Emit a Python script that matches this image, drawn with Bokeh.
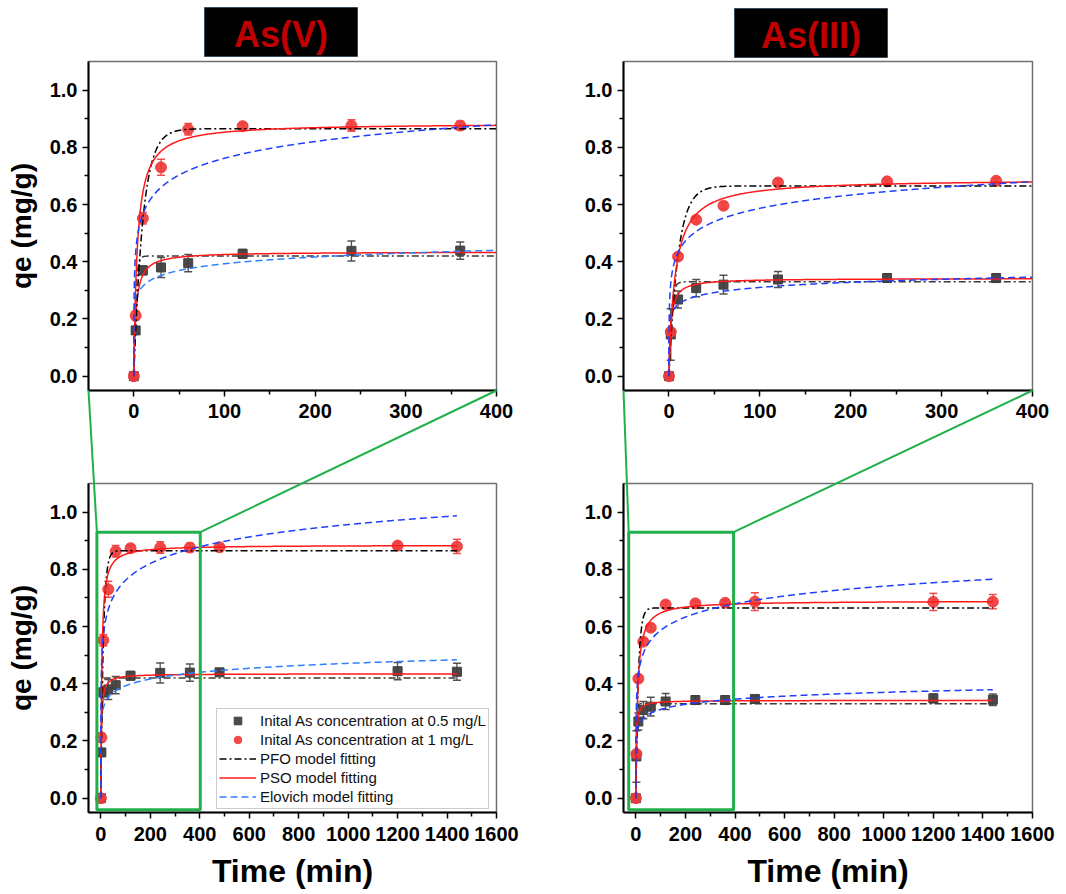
import numpy as np
from bokeh.core.properties import value
from bokeh.embed import file_html
from bokeh.layouts import column, row
from bokeh.models import (BoxAnnotation, FixedTicker, GridBox, Legend, LegendItem,
                          NumeralTickFormatter, Range1d)
from bokeh.plotting import figure
from bokeh.resources import INLINE

# ---------------------------------------------------------------- data
# Sampling times (min)
TIME = [0, 2, 10, 30, 60, 120, 240, 360, 480, 1200, 1440]

# As(V) uptake qe (mg/g) with error, initial 0.5 mg/L and 1 mg/L
ASV_LOW_Q = [0.0, 0.16, 0.37, 0.38, 0.395, 0.428, 0.438, 0.439, 0.44, 0.444, 0.442]
ASV_LOW_ERR = [0.0, 0.01, 0.015, 0.035, 0.03, 0.015, 0.035, 0.03, 0.01, 0.03, 0.03]
ASV_HIGH_Q = [0.0, 0.212, 0.552, 0.73, 0.863, 0.874, 0.876, 0.876, 0.877, 0.883, 0.88]
ASV_HIGH_ERR = [0.0, 0.015, 0.02, 0.028, 0.02, 0.01, 0.02, 0.015, 0.01, 0.012, 0.025]

# As(III) uptake qe (mg/g) with error
ASIII_LOW_Q = [0.0, 0.146, 0.268, 0.308, 0.32, 0.338, 0.343, 0.343, 0.347, 0.349, 0.344]
ASIII_LOW_ERR = [0.0, 0.09, 0.03, 0.03, 0.033, 0.028, 0.015, 0.015, 0.01, 0.015, 0.02]
ASIII_HIGH_Q = [0.0, 0.155, 0.418, 0.547, 0.596, 0.677, 0.681, 0.683, 0.687, 0.686, 0.687]
ASIII_HIGH_ERR = [0.0, 0.01, 0.01, 0.01, 0.012, 0.012, 0.008, 0.01, 0.031, 0.03, 0.025]

# Fitted kinetic parameters
#   PFO: (qe, k1)   PSO: (qe, k2)   Elovich: (alpha, beta)
ASV_LOW_FIT = {"pfo": (0.42, 0.5), "pso": (0.435, 1.0), "elovich": (35.5, 29.4)}
ASV_HIGH_FIT = {"pfo": (0.865, 0.10), "pso": (0.885, 0.30), "elovich": (6.93, 11.83)}
ASIII_LOW_FIT = {"pfo": (0.33, 0.4), "pso": (0.342, 1.5), "elovich": (41.2, 38.6)}
ASIII_HIGH_FIT = {"pfo": (0.665, 0.10), "pso": (0.69, 0.22), "elovich": (4.27, 14.93)}

PANEL_TITLES = ["As(V)", "As(III)"]
LEGEND_LABELS = ["Inital As concentration at 0.5 mg/L",
                 "Inital As concentration at 1 mg/L",
                 "PFO model fitting", "PSO model fitting", "Elovich model fitting"]
Y_LABEL = "qe (mg/g)"
X_LABEL = "Time (min)"

Y_MAJOR = [0.0, 0.2, 0.4, 0.6, 0.8, 1.0]
Y_MINOR = [0.1, 0.3, 0.5, 0.7, 0.9]
TOP_X_MAJOR = [0, 100, 200, 300, 400]
TOP_X_MINOR = [50, 150, 250, 350]
BOT_X_MAJOR = [0, 200, 400, 600, 800, 1000, 1200, 1400, 1600]
BOT_X_MINOR = [100, 300, 500, 700, 900, 1100, 1300, 1500]

# zoomed window drawn on the full-time panels (x0, x1, y0, y1)
ZOOM_V = (-16, 402, -0.04, 0.93)
ZOOM_III = (-29, 394, -0.04, 0.93)


# ---------------------------------------------------------------- models
def pfo(t, qe, k):
    return qe * (1.0 - np.exp(-k * t))


def pso(t, qe, k):
    return qe * qe * k * t / (1.0 + qe * k * t)


def elovich(t, a, b):
    return np.log1p(a * b * t) / b


# ---------------------------------------------------------------- geometry
PAGE_W, PAGE_H = 1066, 894
COL_W = 533
TOP_H = 465
BOT_H = PAGE_H - TOP_H

TOP_X = (-50, 400)
BOT_X = (-50, 1600)
Y_RANGE = (-0.05, 1.1)

FONT = "Liberation Sans"
GREEN = "#22b04b"
RED = "#ef3b3b"
GREY = "#404040"


class Frame:
    """Page-pixel placement of a plot frame and its data ranges."""

    def __init__(self, ox, oy, left, right, top, bottom, xr):
        self.ox, self.oy = ox, oy
        self.l, self.r, self.t, self.b = left, right, top, bottom
        self.xr, self.yr = xr, Y_RANGE

    def to_px(self, x, y):
        gx = self.l + (x - self.xr[0]) / (self.xr[1] - self.xr[0]) * (self.r - self.l)
        gy = self.b - (y - self.yr[0]) / (self.yr[1] - self.yr[0]) * (self.b - self.t)
        return gx, gy


F_TL = Frame(0, 0, 88, 496, 61, 390, TOP_X)
F_TR = Frame(COL_W, 0, 623, 1032, 61, 390, TOP_X)
F_BL = Frame(0, TOP_H, 88, 496, 483, 812, BOT_X)
F_BR = Frame(COL_W, TOP_H, 623, 1032, 483, 812, BOT_X)

# header boxes in page pixels (left, right, top, bottom)
TITLE_BOXES = [(204, 357, 7, 56), (734, 887, 8, 57)]


def make_fig(fr, w, h, x_major, x_minor, y_label, x_label):
    p = figure(width=w, height=h, output_backend="svg", toolbar_location=None,
               x_range=Range1d(*fr.xr), y_range=Range1d(*fr.yr),
               min_border_left=fr.l - fr.ox, min_border_right=fr.ox + w - fr.r,
               min_border_top=fr.t - fr.oy, min_border_bottom=fr.oy + h - fr.b)
    p.xgrid.visible = False
    p.ygrid.visible = False
    p.outline_line_color = "#707070"
    p.outline_line_width = 1.5
    for ax in (p.xaxis[0], p.yaxis[0]):
        ax.axis_line_color = "black"
        ax.axis_line_width = 2
        ax.major_tick_out = 6
        ax.major_tick_in = 0
        ax.minor_tick_out = 4
        ax.minor_tick_in = 0
        ax.major_tick_line_width = 1.5
        ax.minor_tick_line_width = 1.5
        ax.major_tick_line_color = "black"
        ax.minor_tick_line_color = "black"
        ax.major_label_text_font = FONT
        ax.major_label_text_font_size = "20px"
        ax.major_label_text_font_style = "bold"
        ax.major_label_text_color = "black"
        ax.axis_label_text_font = FONT
        ax.axis_label_text_font_style = "bold"
        ax.axis_label_text_color = "black"
    p.yaxis.ticker = FixedTicker(ticks=Y_MAJOR, minor_ticks=Y_MINOR)
    p.yaxis.formatter = NumeralTickFormatter(format="0.0")
    p.yaxis.major_label_standoff = 5
    p.xaxis.ticker = FixedTicker(ticks=x_major, minor_ticks=x_minor)
    p.xaxis.formatter = NumeralTickFormatter(format="0")
    p.xaxis.major_label_standoff = 7 if x_label is None else 8
    if y_label:
        p.yaxis.axis_label = y_label
        p.yaxis.axis_label_text_font_size = "28px"
        p.yaxis.axis_label_standoff = 10
    if x_label:
        p.xaxis.axis_label = x_label
        p.xaxis.axis_label_text_font_size = "32px"
        p.xaxis.axis_label_standoff = 9
    return p


def draw_series(p, q, err, fit, tmax, kind, elov_color, pfo_color):
    t = np.array([v for v in TIME if v <= tmax], dtype=float)
    n = len(t)
    q = np.array(q[:n])
    e = np.array(err[:n])
    col = GREY if kind == "square" else RED
    # error bars
    p.segment(x0=t, y0=q - e, x1=t, y1=q + e, line_color=col, line_width=1.3,
              line_alpha=0.9)
    p.scatter(x=np.concatenate([t, t]), y=np.concatenate([q - e, q + e]),
              marker="dash", size=8, line_color=col, line_width=1.5, line_alpha=0.9)
    # measured points
    if kind == "square":
        pts = p.scatter(x=t, y=q, marker="square", size=9, fill_color=GREY,
                        line_color=GREY, fill_alpha=0.95)
    else:
        pts = p.scatter(x=t, y=q, marker="circle", size=11, fill_color=RED,
                        line_color=RED, fill_alpha=0.92, line_alpha=0.92)
    # model curves
    tt = np.unique(np.concatenate([np.linspace(0, 20, 401),
                                   np.linspace(20, tmax, 700)]))
    r_pfo = p.line(tt, pfo(tt, *fit["pfo"]), line_color=pfo_color, line_width=1.5,
                   line_dash="7 3 2 3")
    r_pso = p.line(tt, pso(tt, *fit["pso"]), line_color="#ff1a1a", line_width=1.5)
    r_elo = p.line(tt, elovich(tt, *fit["elovich"]), line_color=elov_color,
                   line_width=1.5, line_dash="7 4")
    return pts, r_pfo, r_pso, r_elo


# ---------------------------------------------------------------- panels
p_tl = make_fig(F_TL, COL_W, TOP_H, TOP_X_MAJOR, TOP_X_MINOR, Y_LABEL, None)
p_tr = make_fig(F_TR, COL_W, TOP_H, TOP_X_MAJOR, TOP_X_MINOR, None, None)
p_bl = make_fig(F_BL, COL_W, BOT_H, BOT_X_MAJOR, BOT_X_MINOR, Y_LABEL, X_LABEL)
p_br = make_fig(F_BR, COL_W, BOT_H, BOT_X_MAJOR, BOT_X_MINOR, None, X_LABEL)

LIGHT_BLUE = "#2f7fff"
DEEP_BLUE = "#1f3fff"

legend_src = None
for p, tmax in ((p_tl, 400), (p_bl, 1440)):
    lo = draw_series(p, ASV_LOW_Q, ASV_LOW_ERR, ASV_LOW_FIT, tmax, "square",
                     LIGHT_BLUE, "#3a3a3a")
    hi = draw_series(p, ASV_HIGH_Q, ASV_HIGH_ERR, ASV_HIGH_FIT, tmax, "circle",
                     DEEP_BLUE, "black")
    if p is p_bl:
        legend_src = (lo, hi)

for p, tmax in ((p_tr, 400), (p_br, 1440)):
    draw_series(p, ASIII_LOW_Q, ASIII_LOW_ERR, ASIII_LOW_FIT, tmax, "square",
                DEEP_BLUE, "#3a3a3a")
    draw_series(p, ASIII_HIGH_Q, ASIII_HIGH_ERR, ASIII_HIGH_FIT, tmax, "circle",
                DEEP_BLUE, "black")

lo, hi = legend_src
legend = Legend(items=[
    LegendItem(label=LEGEND_LABELS[0], renderers=[lo[0]]),
    LegendItem(label=LEGEND_LABELS[1], renderers=[hi[0]]),
    LegendItem(label=LEGEND_LABELS[2], renderers=[hi[1]]),
    LegendItem(label=LEGEND_LABELS[3], renderers=[hi[2]]),
    LegendItem(label=LEGEND_LABELS[4], renderers=[lo[3]]),
], location=(128, 3))
legend.label_text_font = FONT
legend.label_text_font_size = "15px"
legend.label_text_color = "#111111"
legend.glyph_width = 37
legend.glyph_height = 19
legend.label_height = 19
legend.spacing = 0
legend.padding = 2
legend.margin = 0
legend.label_standoff = 4
legend.border_line_color = "#9a9a9a"
legend.border_line_width = 1.5
legend.background_fill_alpha = 1
p_bl.add_layout(legend)

# zoom windows on the full-time panels
for p, zoom in ((p_bl, ZOOM_V), (p_br, ZOOM_III)):
    x0, x1, y0, y1 = zoom
    p.add_layout(BoxAnnotation(left=x0, right=x1, bottom=y0, top=y1,
                               fill_alpha=0, line_color=GREEN, line_alpha=1,
                               line_width=3))

# ---------------------------------------------------------------- page overlay
# transparent page-sized canvas (pixel coordinates) for the headers and the
# lines tying each short-time panel to its window on the full-time panel
ov = figure(width=PAGE_W, height=PAGE_H, output_backend="svg", toolbar_location=None,
            x_range=Range1d(0, PAGE_W), y_range=Range1d(PAGE_H, 0),
            x_axis_type=None, y_axis_type=None, min_border=0)
ov.grid.visible = False
ov.outline_line_color = None
ov.background_fill_alpha = 0
ov.border_fill_alpha = 0

for f_top, f_bot, zoom in ((F_TL, F_BL, ZOOM_V), (F_TR, F_BR, ZOOM_III)):
    x0, x1, y0, y1 = zoom
    for xt, xb in ((f_top.xr[0], x0), (f_top.xr[1], x1)):
        ax, ay = f_top.to_px(xt, f_top.yr[0])
        bx, by = f_bot.to_px(xb, y1)
        ov.line(x=[ax, bx], y=[ay, by], line_color=GREEN, line_width=2)

for (l, r, t, b), text in zip(TITLE_BOXES, PANEL_TITLES):
    ov.quad(left=[l], right=[r], top=[t], bottom=[b], fill_color="black",
            line_color="#3b4a5e", line_width=1)
    ov.text(x=[(l + r) / 2], y=[(t + b) / 2 + 2], text=[text], text_align="center",
            text_baseline="middle", text_font=value(FONT), text_font_size="36px",
            text_font_style="bold", text_color="#c00000")

panels = column(row(p_tl, p_tr, spacing=0), row(p_bl, p_br, spacing=0), spacing=0)
layout = GridBox(children=[(panels, 0, 0), (column(ov), 0, 0)], spacing=0)

with open("out.html", "w") as fh:
    fh.write(file_html(layout, INLINE, title="Arsenic adsorption kinetics"))
